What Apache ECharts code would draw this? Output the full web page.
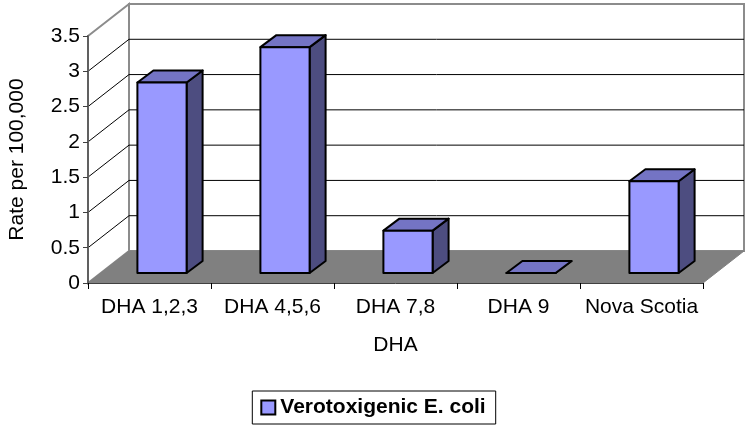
<!DOCTYPE html>
<html lang="en" style="height: 100%">
<head>
<meta charset="utf-8">
<title>Verotoxigenic E. coli by DHA</title>
</head>
<body style="height: 100%; margin: 0; background: #fff">
<div id="container" style="height: 100%"></div>

<script type="text/javascript" src="https://cdn.jsdelivr.net/npm/echarts/dist/echarts.min.js"></script>

<script type="text/javascript">

var categories = ['DHA 1,2,3', 'DHA 4,5,6', 'DHA 7,8', 'DHA 9', 'Nova Scotia'];
var rates = [2.7, 3.2, 0.6, 0, 1.3];
var yTicks = [0, 0.5, 1, 1.5, 2, 2.5, 3, 3.5];
var seriesName = 'Verotoxigenic E. coli';

var dom = document.getElementById('container');
var myChart = echarts.init(dom, null, {width: 746, height: 429});

// depth of the 3D box and of the bars, in pixels
var DEPTH = [41, -32];
var BAR_FRONT = [12.5, -10];
var BAR_DEPTH = [16, -12];
var FONT = 'Liberation Sans, Arial, sans-serif';

function renderWalls(params, api) {
    var cs = params.coordSys;
    var L = cs.x, R = cs.x + cs.width, T = cs.y, B = cs.y + cs.height;
    var dx = DEPTH[0], dy = DEPTH[1];
    var children = [];
    // left wall
    children.push({
        type: 'polygon',
        shape: {points: [[L, T], [L + dx, T + dy], [L + dx, B + dy], [L, B]]},
        style: {fill: '#fff', stroke: '#8c8c8c', lineWidth: 2}
    });
    // back wall
    children.push({
        type: 'rect',
        shape: {x: L + dx, y: T + dy, width: R - L, height: B - T},
        style: {fill: '#fff', stroke: '#8c8c8c', lineWidth: 2}
    });
    // grid lines on both walls
    yTicks.forEach(function (v) {
        if (v === 0 || v === yTicks[yTicks.length - 1]) return;
        var y = api.coord([0, v])[1];
        children.push({
            type: 'line',
            shape: {x1: L + dx, y1: y + dy, x2: R + dx, y2: y + dy},
            style: {stroke: '#000', lineWidth: 1}
        });
        children.push({
            type: 'line',
            shape: {x1: L, y1: y, x2: L + dx, y2: y + dy},
            style: {stroke: '#000', lineWidth: 1}
        });
    });
    // floor
    children.push({
        type: 'polygon',
        shape: {points: [[L, B], [R, B], [R + dx, B + dy], [L + dx, B + dy]]},
        style: {fill: '#808080', stroke: '#808080', lineWidth: 1}
    });
    return {type: 'group', children: children};
}

function renderBar(params, api) {
    var idx = api.value(0);
    var base = api.coord([idx, 0]);
    var top = api.coord([idx, api.value(1)]);
    var w = api.size([1, 0])[0] * 0.4;
    var x0 = base[0] - w / 2 + BAR_FRONT[0];
    var x1 = x0 + w;
    var yb = base[1] + BAR_FRONT[1];
    var yt = top[1] + BAR_FRONT[1];
    var dx = BAR_DEPTH[0], dy = BAR_DEPTH[1];
    var edge = {stroke: '#000', lineWidth: 2, lineJoin: 'round'};
    return {
        type: 'group',
        children: [
            {
                type: 'polygon',
                shape: {points: [[x1, yb], [x1, yt], [x1 + dx, yt + dy], [x1 + dx, yb + dy]]},
                style: Object.assign({fill: '#4d4d80'}, edge)
            },
            {
                type: 'polygon',
                shape: {points: [[x0, yt], [x1, yt], [x1 + dx, yt + dy], [x0 + dx, yt + dy]]},
                style: Object.assign({fill: '#7474c4'}, edge)
            },
            {
                type: 'polygon',
                shape: {points: [[x0, yb], [x1, yb], [x1, yt], [x0, yt]]},
                style: Object.assign({fill: '#9999ff'}, edge)
            }
        ]
    };
}

var option = {
    animation: false,
    legend: {
        left: 'center',
        top: 391,
        padding: [6, 10, 6, 8],
        borderColor: '#000',
        borderWidth: 1,
        itemWidth: 14,
        itemHeight: 14,
        itemGap: 6,
        data: [{
            name: seriesName,
            icon: 'rect',
            itemStyle: {color: '#9999ff', borderColor: '#000', borderWidth: 2}
        }],
        textStyle: {fontFamily: FONT, fontSize: 21, fontWeight: 'bold', color: '#000'}
    },
    grid: {
        left: 88,
        top: 36,
        width: 615,
        height: 247,
        outerBoundsMode: 'none'
    },
    xAxis: {
        type: 'category',
        data: categories,
        name: 'DHA',
        nameLocation: 'middle',
        nameGap: 52,
        nameTextStyle: {fontFamily: FONT, fontSize: 21, color: '#000'},
        axisLine: {show: true, lineStyle: {color: '#404040', width: 1}},
        axisTick: {show: true, alignWithLabel: false, length: 6, lineStyle: {color: '#000'}},
        axisLabel: {fontFamily: FONT, fontSize: 21, color: '#000', margin: 14, interval: 0},
        splitLine: {show: false}
    },
    yAxis: {
        type: 'value',
        min: 0,
        max: 3.5,
        interval: 0.5,
        name: 'Rate per 100,000',
        nameLocation: 'middle',
        nameRotate: 90,
        nameGap: 60,
        nameTextStyle: {fontFamily: FONT, fontSize: 21, color: '#000'},
        axisLine: {show: true, lineStyle: {color: '#606060', width: 2}},
        axisTick: {show: true, inside: false, length: 5, lineStyle: {color: '#404040'}},
        axisLabel: {fontFamily: FONT, fontSize: 21, color: '#000', margin: 8},
        splitLine: {show: false}
    },
    series: [
        {
            name: 'walls',
            type: 'custom',
            z: -1,
            clip: false,
            silent: true,
            renderItem: renderWalls,
            data: [[0, 0]]
        },
        {
            name: seriesName,
            type: 'custom',
            z: 3,
            clip: false,
            itemStyle: {color: '#9999ff'},
            renderItem: renderBar,
            encode: {x: 0, y: 1},
            data: rates.map(function (v, i) { return [i, v]; })
        }
    ]
};

myChart.setOption(option);

window.addEventListener('resize', myChart.resize);
</script>
</body>
</html>
